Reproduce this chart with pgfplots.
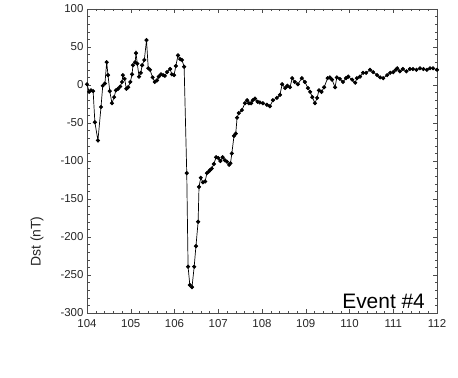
\documentclass[border=0pt]{standalone}
\usepackage{pgfplots}
\pgfplotsset{compat=1.18}
\usepackage{fontspec}
\setmainfont{Liberation Sans}
\begin{document}
\begin{tikzpicture}[x=1bp,y=1bp]
\useasboundingbox (0,0) rectangle (458,377);
\begin{axis}[
 at={(87bp,64bp)}, anchor=south west,
 scale only axis, width=350bp, height=304bp,
 xmin=104, xmax=112, ymin=-300, ymax=100,
 xtick={104,105,...,112}, ytick={-300,-250,...,100},
 minor x tick num=4, minor y tick num=4,
 tick align=inside,
 major tick length=4bp, minor tick length=2.5bp,
 axis line style={black!70, line width=0.6bp},
 tick style={black!70, line width=0.5bp},
 ticklabel style={font=\fontsize{11.5}{12}\selectfont, text=black!85},
 /pgf/number format/assume math mode=true,
 /pgf/number format/1000 sep={},
 xticklabel style={yshift=-3bp},
 ylabel={Dst (nT)},
 ylabel style={at={(axis description cs:-0.143,0.235)}, anchor=center, font=\fontsize{14}{14}\selectfont, text=black!85},
]
\addplot[black, line width=0.7bp, mark=*, mark size=1.7bp] coordinates {
(104.00,1) (104.05,-9) (104.09,-7) (104.14,-8) (104.18,-49) (104.25,-73) (104.32,-29) (104.36,-1)
(104.41,2) (104.45,30) (104.48,13) (104.52,-8) (104.57,-24) (104.62,-16) (104.66,-7) (104.71,-5)
(104.76,-2) (104.80,4) (104.82,13) (104.86,8) (104.90,-5) (104.94,-3) (104.99,4) (105.03,14)
(105.05,26) (105.10,30) (105.12,42) (105.15,28) (105.19,11) (105.23,16) (105.26,26) (105.31,33)
(105.36,59) (105.40,22) (105.44,20) (105.50,10) (105.55,4) (105.60,6) (105.64,11) (105.69,14)
(105.74,13) (105.78,12) (105.83,17) (105.90,21) (105.94,14) (105.99,13) (106.03,25) (106.08,39)
(106.13,34) (106.17,33) (106.22,24) (106.28,-116) (106.31,-239) (106.35,-263) (106.40,-266) (106.45,-239)
(106.49,-212) (106.54,-180) (106.56,-134) (106.60,-122) (106.65,-128) (106.70,-127) (106.74,-116) (106.78,-114)
(106.81,-112) (106.85,-110) (106.90,-104) (106.95,-95) (107.00,-96) (107.05,-100) (107.10,-95) (107.15,-99)
(107.20,-101) (107.25,-105) (107.28,-103) (107.31,-90) (107.36,-67) (107.40,-64) (107.43,-43) (107.47,-37)
(107.54,-33) (107.61,-24) (107.66,-20) (107.70,-24) (107.75,-24) (107.79,-20) (107.84,-18) (107.90,-22)
(107.95,-23) (108.02,-24) (108.11,-26) (108.18,-28) (108.25,-20) (108.34,-17) (108.41,-13) (108.46,1)
(108.53,-4) (108.58,-1) (108.64,-3) (108.69,9) (108.75,4) (108.82,1) (108.91,9) (108.98,4)
(109.05,-4) (109.10,-9) (109.15,-16) (109.21,-24) (109.26,-17) (109.30,-7) (109.36,-9) (109.42,-3)
(109.50,9) (109.55,10) (109.60,7) (109.67,-3) (109.71,10) (109.78,8) (109.85,4) (109.92,9)
(109.97,11) (110.06,7) (110.13,3) (110.17,9) (110.24,11) (110.31,16) (110.38,16) (110.47,20)
(110.54,17) (110.63,13) (110.70,10) (110.77,9) (110.86,13) (110.93,16) (111.00,17) (111.06,20)
(111.09,22) (111.15,18) (111.22,21) (111.30,18) (111.38,21) (111.45,21) (111.53,20) (111.61,22)
(111.69,21) (111.77,20) (111.84,22) (111.91,22) (112.00,20)
};
\node[anchor=base east, inner sep=0pt, font=\fontsize{21}{21}\selectfont, text=black] at (rel axis cs:0.966,0.016) {Event \#4};
\end{axis}
\end{tikzpicture}
\end{document}
